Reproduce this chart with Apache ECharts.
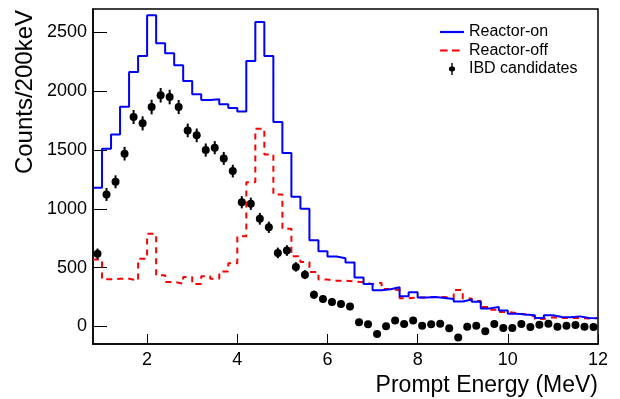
<!DOCTYPE html>
<html>
<head>
<meta charset="utf-8">
<script src="https://cdn.jsdelivr.net/npm/echarts@6/dist/echarts.min.js"></script>
<style>
html,body{margin:0;padding:0;background:#fff;}
#chart{width:620px;height:399px;}
</style>
</head>
<body>
<div id="chart"></div>
<script>
// Histogram binning (MeV)
const binStart = 0.8;
const binWidth = 0.2;

// Reactor-on spectrum, counts per 200 keV bin (bins 0.8-1.0 ... 11.8-12.0)
const reactorOn = [
  1179, 1511, 1633, 1869, 2164, 2300, 2647, 2409, 2323, 2221,
  2087, 1974, 1926, 1932, 1889, 1857, 1829, 2258, 2590, 2300,
  1738, 1474, 1102, 1000, 733, 639, 594, 579, 543, 415,
  361, 307, 315, 332, 256, 290, 245, 250, 242, 233,
  212, 228, 210, 153, 165, 134, 108, 100, 94, 71,
  94, 80, 77, 85, 71, 68
];

// Reactor-off spectrum (scaled), counts per 200 keV bin
const reactorOff = [
  568, 400, 405, 405, 390, 575, 787, 435, 378, 364,
  421, 361, 426, 406, 466, 537, 767, 1227, 1682, 1463,
  1122, 830, 596, 548, 463, 398, 389, 389, 383, 375,
  361, 372, 318, 307, 239, 247, 245, 250, 250, 238,
  310, 238, 215, 165, 142, 123, 114, 100, 85, 63,
  77, 71, 71, 71, 66, 71
];

// IBD candidates (reactor-on minus reactor-off), at bin centres
const ibdCandidates = [
  617, 1122, 1230, 1469, 1781, 1727, 1866, 1966, 1951, 1866,
  1667, 1625, 1500, 1520, 1429, 1321, 1056, 1043, 915, 843,
  625, 645, 506, 440, 270, 233, 208, 191, 168, 34,
  17, -65, 0, 49, 20, 49, 6, 17, 23, -17,
  -95, -4, 6, -42, 20, -14, -14, 20, -5, 14,
  23, -3, 6, 12, -3, -5
];

// Statistical uncertainty on IBD candidates
const ibdErrors = [
  45, 55, 55, 58, 60, 60, 62, 62, 62, 60,
  58, 58, 56, 56, 55, 54, 52, 52, 50, 48,
  45, 45, 40, 38, 34, 32, 32, 31, 30, 28,
  27, 26, 26, 26, 25, 25, 24, 24, 24, 24,
  24, 23, 22, 21, 21, 20, 19, 19, 18, 17,
  17, 17, 17, 17, 16, 16
];

// Axis tick labels
const xTicks = [2, 4, 6, 8, 10, 12];
const yTicks = [0, 500, 1000, 1500, 2000, 2500];

// Build step data from bin lower edges (plus closing edge)
function stepData(vals) {
  const d = vals.map((v, i) => [+(binStart + i * binWidth).toFixed(2), v]);
  d.push([+(binStart + vals.length * binWidth).toFixed(2), vals[vals.length - 1]]);
  return d;
}
const centers = ibdCandidates.map((v, i) => +(binStart + (i + 0.5) * binWidth).toFixed(2));
const pointData = ibdCandidates.map((v, i) => [centers[i], v]);
const errData = ibdCandidates.map((v, i) => [centers[i], v - ibdErrors[i], v + ibdErrors[i]]);

const FONT = 'Liberation Sans, Arial, Helvetica, sans-serif';
const chart = echarts.init(document.getElementById('chart'), null, {renderer: 'canvas'});

chart.setOption({
  animation: false,
  backgroundColor: '#fff',
  grid: {left: 93, right: 22, top: 9, bottom: 55, show: true, borderColor: '#000', borderWidth: 1.5, backgroundColor: 'transparent'},
  xAxis: {
    type: 'value', min: 0.8, max: 12,
    axisLine: {onZero: false, lineStyle: {color: '#000', width: 1.5}},
    axisTick: {inside: true, length: 10, customValues: xTicks, lineStyle: {color: '#000', width: 1}},
    axisLabel: {customValues: xTicks, color: '#000', fontSize: 18, fontFamily: FONT, margin: 7, formatter: v => String(v)},
    splitLine: {show: false}
  },
  yAxis: {
    type: 'value', min: -150, max: 2700,
    axisLine: {show: true, onZero: false, lineStyle: {color: '#000', width: 1.5}},
    axisTick: {show: true, inside: true, length: 14, customValues: yTicks, lineStyle: {color: '#000', width: 1}},
    axisLabel: {customValues: yTicks, color: '#000', fontSize: 18, fontFamily: FONT, margin: 6, formatter: v => String(v)},
    splitLine: {show: false}
  },
  legend: {
    orient: 'vertical', left: 435, top: 19,
    itemWidth: 24, itemHeight: 12, itemGap: 2.5,
    textStyle: {fontSize: 16, fontFamily: FONT, color: '#000'},
    data: [
      {name: 'Reactor-on', icon: 'path://M0,0 L22,0 L22,2 L0,2 Z', itemStyle: {color: '#0000ff'}},
      {name: 'Reactor-off', icon: 'path://M0,0 L7,0 L7,2 L0,2 Z M11,0 L18,0 L18,2 L11,2 Z M22,0 L22.01,0 L22.01,2 L22,2 Z', itemStyle: {color: '#ff0000'}},
      {name: 'IBD candidates', icon: 'path://M11,0 L13,0 L13,5 A3.5,3.5 0 0 1 13,12 L13,17 L11,17 L11,12 A3.5,3.5 0 0 1 11,5 Z', itemStyle: {color: '#000'}}
    ]
  },
  graphic: [
    {type: 'text', x: 598, y: 386, style: {text: 'Prompt Energy (MeV)', font: '23px ' + FONT, fill: '#000', textAlign: 'right', textVerticalAlign: 'middle'}},
    {type: 'text', x: 25, y: 10, rotation: Math.PI / 2, style: {text: 'Counts/200keV', font: '24px ' + FONT, fill: '#000', textAlign: 'right', textVerticalAlign: 'middle'}}
  ],
  series: [
    {
      name: 'Reactor-on', type: 'line', step: 'end', data: stepData(reactorOn),
      symbol: 'none', color: '#0000ff', lineStyle: {color: '#0000ff', width: 2}, z: 3
    },
    {
      name: 'Reactor-off', type: 'line', step: 'end', data: stepData(reactorOff),
      symbol: 'none', color: '#ff0000', lineStyle: {color: '#ff0000', width: 2, type: [6, 5]}, z: 2
    },
    {
      name: 'IBD candidates', type: 'scatter', data: pointData,
      symbol: 'circle', symbolSize: 8, color: '#000', itemStyle: {color: '#000', opacity: 1}, z: 5
    },
    {
      name: 'IBD candidates', type: 'custom', data: errData, z: 4,
      encode: {x: 0, y: [1, 2]},
      renderItem: function (params, api) {
        const p1 = api.coord([api.value(0), api.value(1)]);
        const p2 = api.coord([api.value(0), api.value(2)]);
        return {type: 'line', shape: {x1: p1[0], y1: p1[1], x2: p2[0], y2: p2[1]}, style: {stroke: '#000', lineWidth: 2}};
      }
    }
  ]
});
</script>
</body>
</html>
